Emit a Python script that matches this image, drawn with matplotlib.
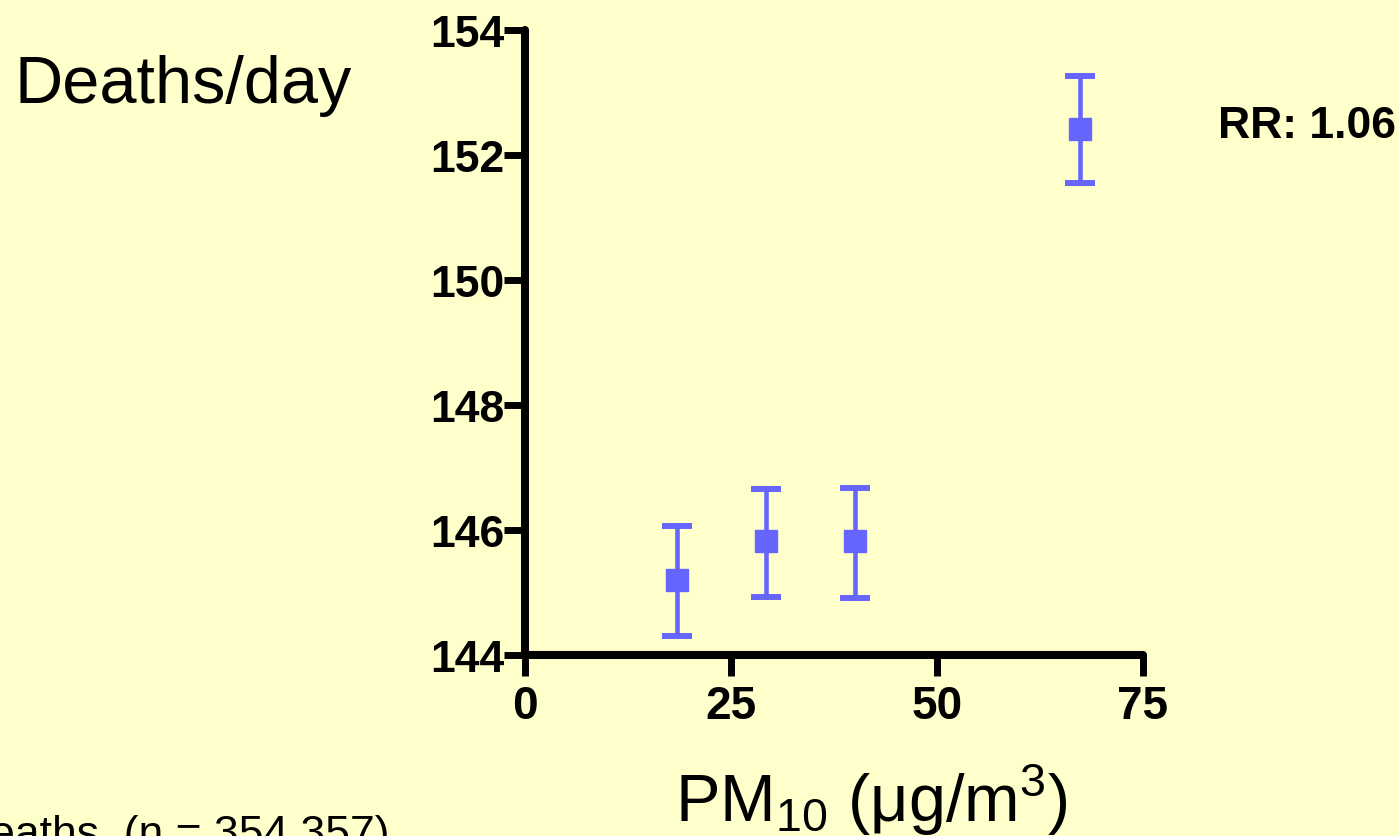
import matplotlib
matplotlib.use("Agg")
import matplotlib.pyplot as plt

# data
pm10 = [18.4, 29.2, 40.1, 67.4]
deaths = [145.20, 145.82, 145.82, 152.42]
ci_low = [144.31, 144.93, 144.92, 151.55]
ci_high = [146.07, 146.66, 146.67, 153.26]

x_ticks = [0, 25, 50, 75]
y_ticks = [144, 146, 148, 150, 152, 154]

bg = "#FFFFCC"
blue = "#6666FF"

plt.rcParams["font.family"] = ["Liberation Sans", "DejaVu Sans"]
plt.rcParams["mathtext.fontset"] = "custom"
plt.rcParams["mathtext.rm"] = "Liberation Sans"
plt.rcParams["mathtext.it"] = "Liberation Sans"

fig = plt.figure(figsize=(13.99, 8.37), dpi=100, facecolor=bg)
ax = fig.add_axes([0.3753, 0.2162, 0.4417, 0.7468])
ax.set_facecolor(bg)

yerr = [[d - l for d, l in zip(deaths, ci_low)],
        [h - d for d, h in zip(deaths, ci_high)]]
eb = ax.errorbar(pm10, deaths, yerr=yerr, fmt="s", color=blue, ms=16.5,
                 elinewidth=3.3, capsize=11, capthick=4.3, clip_on=False, zorder=3)
for cap in eb[1]:
    cap.set_solid_capstyle("round")

ax.set_xlim(0, 75)
ax.set_ylim(144, 154)
ax.set_xticks(x_ticks)
ax.set_yticks(y_ticks)

for side in ["top", "right"]:
    ax.spines[side].set_visible(False)
for side in ["left", "bottom"]:
    ax.spines[side].set_linewidth(5.8)
    ax.spines[side].set_capstyle("round")

ax.tick_params(axis="both", length=15, width=5, color="black")
ax.tick_params(axis="y", pad=0)
ax.tick_params(axis="x", pad=6)
for lbl in ax.get_yticklabels():
    lbl.set_fontsize(32)
    lbl.set_fontweight("bold")
for lbl in ax.get_xticklabels():
    lbl.set_fontsize(33)
    lbl.set_fontweight("bold")

# texts around the plot
fig.text(15 / 1399, 1 - 103 / 837, "Deaths/day", fontsize=48, va="baseline", ha="left")
fig.text(871 / 1399, 1 - 822 / 837, r"PM$_{10}$ ($\mathrm{\mu}$g/m$^{3}$)",
         fontsize=48, va="baseline", ha="center")
fig.text(1218 / 1399, 1 - 138 / 837, "RR: 1.06", fontsize=32, fontweight="bold",
         va="baseline", ha="left")
fig.text(390 / 1399, 1 - 847 / 837, "Deaths  (n = 354,357)", fontsize=32,
         va="baseline", ha="right")

fig.savefig("out.png", dpi=100, facecolor=bg)
